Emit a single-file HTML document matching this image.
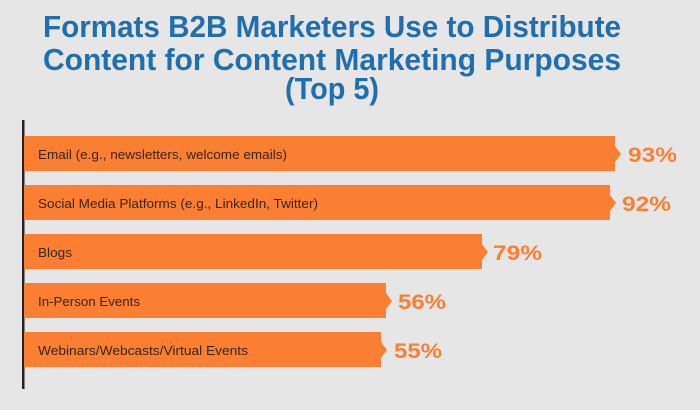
<!DOCTYPE html>
<html><head><style>
html,body{margin:0;padding:0;background:#e6e6e6;}
svg{display:block}
</style></head><body>
<svg width="700" height="410" viewBox="0 0 700 410" xmlns="http://www.w3.org/2000/svg">
<rect width="700" height="410" fill="#e6e6e6"/>
<g font-family="'Liberation Sans Narrow','Liberation Sans',sans-serif" font-weight="bold" fill="#1f6fb0" font-size="31" text-anchor="middle">
<text x="332" y="37" textLength="578" lengthAdjust="spacingAndGlyphs">Formats B2B Marketers Use to Distribute</text>
<text x="332" y="70" textLength="578" lengthAdjust="spacingAndGlyphs">Content for Content Marketing Purposes</text>
<text x="332" y="99" textLength="94" lengthAdjust="spacingAndGlyphs">(Top 5)</text>
</g>
<rect x="22" y="120" width="2.5" height="269" fill="#2a2222"/>
<g fill="#fa7f32">
<polygon points="24,136 615,136 615,146 621,154 615,162 615,171 24,171"/>
<polygon points="24,185 610,185 610,195 616,203 610,211 610,220 24,220"/>
<polygon points="24,234 482,234 482,244 488,252 482,260 482,269 24,269"/>
<polygon points="24,283 386,283 386,293 392,301 386,309 386,318 24,318"/>
<polygon points="24,332 381,332 381,342 387,350 381,358 381,367 24,367"/>
</g>
<g font-family="'Liberation Sans Narrow','Liberation Sans',sans-serif" font-size="13" fill="#3a2418">
<text x="38" y="159" textLength="249" lengthAdjust="spacingAndGlyphs">Email (e.g., newsletters, welcome emails)</text>
<text x="38" y="208" textLength="280" lengthAdjust="spacingAndGlyphs">Social Media Platforms (e.g., LinkedIn, Twitter)</text>
<text x="38" y="257" textLength="34" lengthAdjust="spacingAndGlyphs">Blogs</text>
<text x="38" y="306" textLength="102" lengthAdjust="spacingAndGlyphs">In-Person Events</text>
<text x="38" y="355" textLength="210" lengthAdjust="spacingAndGlyphs">Webinars/Webcasts/Virtual Events</text>
</g>
<g font-family="'Liberation Sans',sans-serif" font-weight="bold" font-size="21" fill="#fa7f32">
<text x="628" y="162" textLength="49" lengthAdjust="spacingAndGlyphs">93%</text>
<text x="622" y="211" textLength="49" lengthAdjust="spacingAndGlyphs">92%</text>
<text x="493" y="260" textLength="49" lengthAdjust="spacingAndGlyphs">79%</text>
<text x="398" y="309" textLength="48" lengthAdjust="spacingAndGlyphs">56%</text>
<text x="394" y="358" textLength="48" lengthAdjust="spacingAndGlyphs">55%</text>
</g>
</svg>
</body></html>
